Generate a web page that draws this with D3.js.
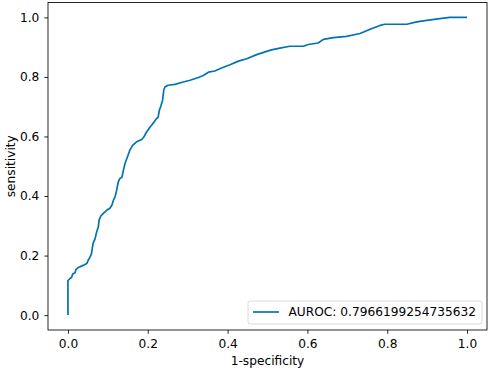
<!DOCTYPE html>
<html>
<head>
<meta charset="utf-8">
<script src="https://cdn.jsdelivr.net/npm/d3@7"></script>
<style>
  html, body { margin: 0; padding: 0; background: #fff; }
  svg { display: block; }
  text { font-family: "DejaVu Sans", sans-serif; fill: #000; }
</style>
</head>
<body>
<svg id="chart" width="491" height="371"></svg>
<script>
// ROC curve points
const fpr = [0, 0, 0.001, 0.005, 0.009, 0.012, 0.0175, 0.020, 0.026, 0.038, 0.047, 0.051, 0.055, 0.059, 0.061, 0.063, 0.068, 0.072, 0.076, 0.078, 0.082, 0.088, 0.097, 0.105, 0.110, 0.114,
  0.118, 0.122, 0.126, 0.130, 0.135, 0.139, 0.143, 0.149, 0.155, 0.162, 0.172, 0.185, 0.190, 0.197, 0.206, 0.216, 0.222, 0.226, 0.229, 0.232, 0.237, 0.240,
  0.243, 0.251, 0.268, 0.289, 0.306, 0.327, 0.339, 0.352, 0.368, 0.385, 0.406, 0.427, 0.448, 0.473, 0.494, 0.510,
  0.531, 0.556, 0.590, 0.602, 0.627, 0.640, 0.665, 0.698, 0.732, 0.757, 0.782, 0.794, 0.849, 0.874, 0.899, 0.932, 0.957, 1.0];
const tpr = [0, 0.117, 0.117, 0.123, 0.126, 0.138, 0.142, 0.153, 0.160, 0.167, 0.173, 0.185, 0.194, 0.207, 0.224, 0.241, 0.257, 0.280, 0.296, 0.319, 0.332, 0.341, 0.352, 0.359, 0.369, 0.386,
  0.397, 0.419, 0.447, 0.459, 0.462, 0.487, 0.509, 0.531, 0.554, 0.570, 0.582, 0.590, 0.598, 0.615, 0.632, 0.649, 0.660, 0.665, 0.688, 0.699, 0.721, 0.755,
  0.766, 0.772, 0.775, 0.783, 0.789, 0.798, 0.805, 0.816, 0.820, 0.830, 0.841, 0.853, 0.861, 0.875, 0.884, 0.891,
  0.897, 0.903, 0.903, 0.909, 0.914, 0.926, 0.932, 0.936, 0.946, 0.960, 0.973, 0.977, 0.977, 0.985, 0.990, 0.996, 1.0, 1.0];
const xTicks = [0.0, 0.2, 0.4, 0.6, 0.8, 1.0];
const yTicks = [0.0, 0.2, 0.4, 0.6, 0.8, 1.0];
const legendLabel = "AUROC: 0.7966199254735632";
const xLabel = "1-specificity";
const yLabel = "sensitivity";

(function () {
const svg = d3.select("#chart");
const pL = 48, pR = 487, pT = 2.5, pB = 330;
const color = "#0173b2";
const fs = 12.2;

const x = d3.scaleLinear().domain([-0.05, 1.05]).range([pL, pR]);
const y = d3.scaleLinear().domain([-0.05, 1.05]).range([pB, pT]);

const data = fpr.map((v, i) => [v, tpr[i]]);

// curve
svg.append("path")
  .datum(data)
  .attr("fill", "none")
  .attr("stroke", color)
  .attr("stroke-width", 1.7)
  .attr("stroke-linejoin", "round")
  .attr("d", d3.line().x(d => x(d[0])).y(d => y(d[1])));

// axes
const xAxis = svg.append("g").attr("transform", `translate(0,${pB})`)
  .call(d3.axisBottom(x).tickValues(xTicks).tickFormat(d3.format(".1f")).tickSizeInner(3.7).tickSizeOuter(0).tickPadding(5.5));
const yAxis = svg.append("g").attr("transform", `translate(${pL},0)`)
  .call(d3.axisLeft(y).tickValues(yTicks).tickFormat(d3.format(".1f")).tickSizeInner(3.7).tickSizeOuter(0).tickPadding(5));
[xAxis, yAxis].forEach(g => {
  g.select(".domain").remove();
  g.selectAll(".tick line").attr("stroke", "#000").attr("stroke-width", 0.85);
  g.selectAll(".tick text").attr("font-size", fs).attr("font-family", "DejaVu Sans, sans-serif").attr("fill", "#000");
});

// frame
svg.append("rect")
  .attr("x", pL).attr("y", pT)
  .attr("width", pR - pL).attr("height", pB - pT)
  .attr("fill", "none").attr("stroke", "#000").attr("stroke-width", 0.85);

// labels
svg.append("text").attr("x", (pL + pR) / 2).attr("y", 364.5)
  .attr("text-anchor", "middle").attr("font-size", fs).text(xLabel);
svg.append("text")
  .attr("transform", `translate(14.5,${(pT + pB) / 2}) rotate(-90)`)
  .attr("text-anchor", "middle").attr("font-size", fs).text(yLabel);

// legend
const lg = svg.append("g");
lg.append("rect").attr("x", 248).attr("y", 301).attr("width", 234).attr("height", 23)
  .attr("rx", 2.5).attr("fill", "#fff").attr("fill-opacity", 0.8)
  .attr("stroke", "#d0d0d0").attr("stroke-width", 0.8);
lg.append("line").attr("x1", 253).attr("x2", 279).attr("y1", 312).attr("y2", 312)
  .attr("stroke", color).attr("stroke-width", 1.7);
lg.append("text").attr("x", 288.5).attr("y", 316.2).attr("font-size", fs).text(legendLabel);
})();
</script>
</body>
</html>
